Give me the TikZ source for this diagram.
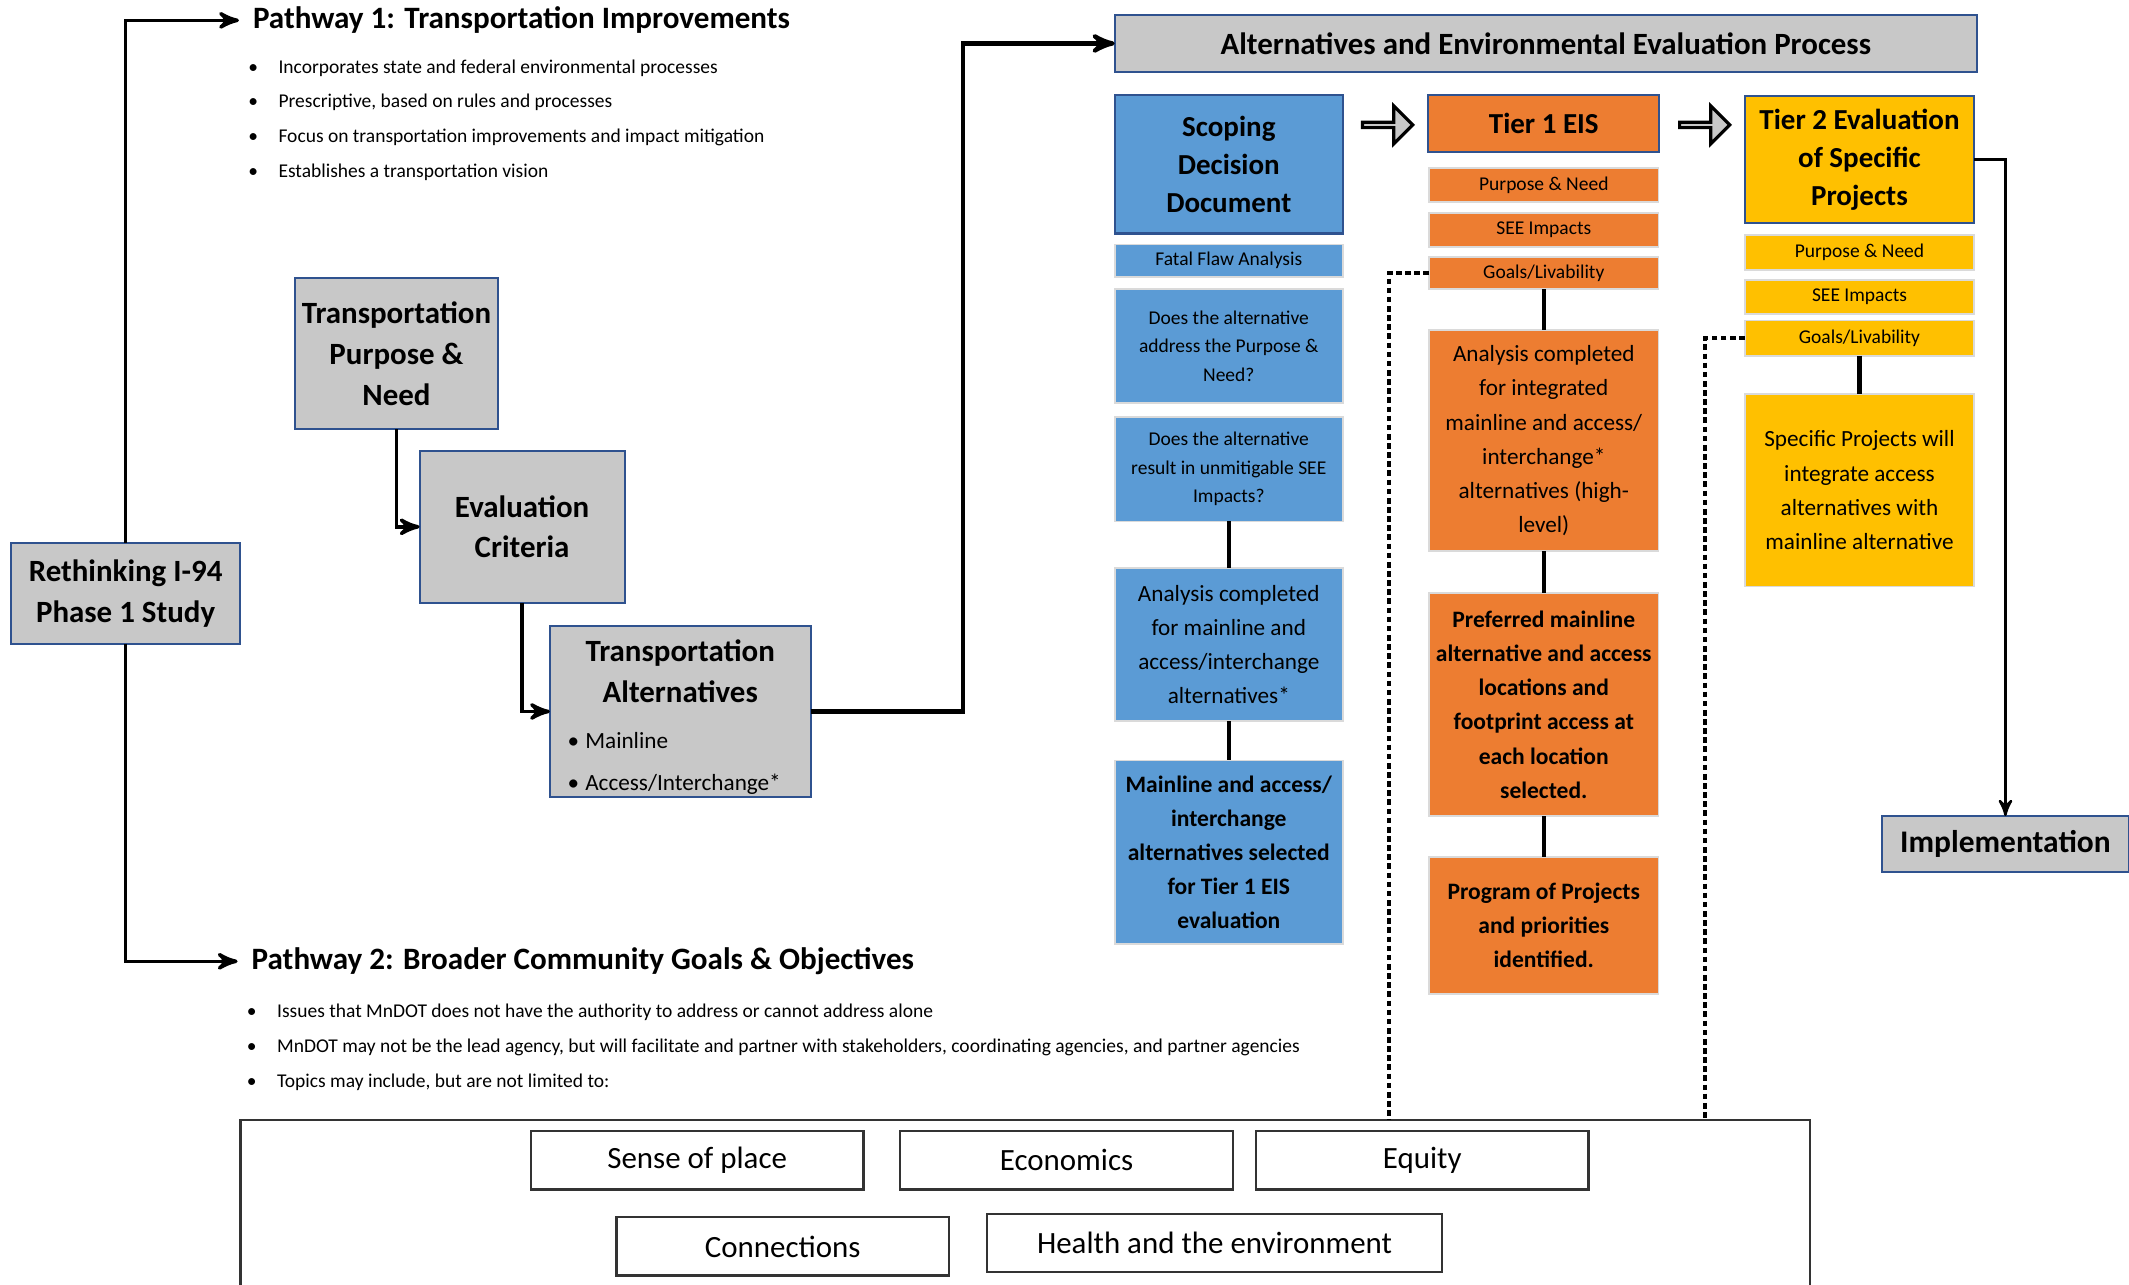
\documentclass[tikz,border=0pt]{standalone}
\usepackage{fontspec}
\setmainfont{Carlito}
\usepackage{tikz}
\usetikzlibrary{arrows,positioning,shapes.arrows}

\newcommand{\ux}{0.13578mm}
\newcommand{\itm}{\makebox[8.6pt][l]{\textbullet}}
\newcommand{\itmb}{\makebox[5pt][l]{\textbullet}}

\definecolor{boxgray}{HTML}{C8C8C8}
\definecolor{navyline}{HTML}{2F528F}
\definecolor{scopeblue}{HTML}{5B9BD5}
\definecolor{tieroj}{HTML}{ED7D31}
\definecolor{tiergold}{HTML}{FFC000}
\definecolor{cellline}{HTML}{DADADA}

\begin{document}
\begin{tikzpicture}[x=\ux,y=-\ux,>=stealth',line width=1pt]
    \tikzset{every node/.style={inner sep=1.5pt,outer sep=0pt},
             wh/.style 2 args={minimum width=#1*\ux,minimum height=#2*\ux},
             bigb/.style={font=\fontsize{8.25}{10.8}\selectfont\bfseries,align=center},
             smalltxt/.style={font=\fontsize{5.55}{8.1}\selectfont,align=center},
             midtxt/.style={font=\fontsize{6.6}{9.7}\selectfont,align=center},
             midb/.style={font=\fontsize{6.7}{9.7}\selectfont\bfseries,align=center},
             graybox/.style={draw=navyline,line width=0.6pt,fill=boxgray,bigb,font=\fontsize{8.8}{11.6}\selectfont\bfseries},
             headbox/.style={draw=navyline,line width=0.6pt,bigb},
             cell/.style={draw=cellline,line width=0.5pt},
             heading/.style={font=\fontsize{8.85}{11}\selectfont\bfseries,anchor=west,inner xsep=4pt},
             bullets/.style={font=\fontsize{5.55}{9.9}\selectfont,align=left,anchor=west},
             topic/.style={draw=black!80,line width=0.7pt,font=\fontsize{8.8}{11}\selectfont,wh={245}{43}},
             blockarrow/.style={single arrow,draw=black,line width=0.9pt,fill=boxgray,inner sep=0pt,
                                minimum height=37*\ux,minimum width=28*\ux,single arrow head extend=7*\ux},
             link/.style={line width=1.2pt},
             dotline/.style={line width=1.2pt,dash pattern=on 1.6pt off 1pt}}
    \useasboundingbox (0,0) rectangle (1568,946);
    \clip (0,0) rectangle (1568,946);

    \node[graybox,wh={169}{74}] (rt) at (92.5,437) {Rethinking I-94\\Phase 1 Study};
    \node[heading] (p1) at (176,15) {Pathway 1: Transportation Improvements};
    \node[bullets] (p1list) at (179,88.5) {\itm Incorporates state and federal environmental processes\\
        \itm Prescriptive, based on rules and processes\\
        \itm Focus on transportation improvements and impact mitigation\\
        \itm Establishes a transportation vision};
    \node[graybox,wh={150}{111}] (tpn) at (292,260.5) {Transportation\\Purpose \&\\Need};
    \node[graybox,wh={151}{112}] (ec) at (384.5,388) {Evaluation\\Criteria};
    \node[graybox,wh={192}{126},inner ysep=0pt] (ta) at (501,524) {\rule{0pt}{9.5pt}Transportation\\Alternatives\\[1.5pt]
        \makebox[22.5mm][l]{\normalfont\fontsize{6.6}{12}\selectfont\itmb Mainline}\\[0.4pt]
        \makebox[22.5mm][l]{\normalfont\fontsize{6.6}{12}\selectfont\itmb Access/Interchange*}};

    \node[heading] (p2) at (175,708) {Pathway 2: Broader Community Goals \& Objectives};
    \node[bullets] (p2list) at (178,771.5) {\itm Issues that MnDOT does not have the authority to address or cannot address alone\\
        \itm MnDOT may not be the lead agency, but will facilitate and partner with stakeholders, coordinating agencies, and partner agencies\\
        \itm Topics may include, but are not limited to:};
    \node[draw=black!80,line width=0.7pt,wh={1156}{260}] (topics) at (755,955) {};
    \node[topic] (sense) at (513.5,854.5) {Sense of place};
    \node[topic] (econ) at (785.5,854.5) {Economics};
    \node[topic] (equity) at (1047.5,854.5) {Equity};
    \node[topic] (conn) at (576.5,918) {Connections};
    \node[topic,wh={335}{43}] (health) at (894.5,915.5) {Health and the environment};

    \node[graybox,wh={635}{42},font=\fontsize{8.8}{11}\selectfont\bfseries] (title) at (1138.5,32) {Alternatives and Environmental Evaluation Process};

    \node[headbox,fill=scopeblue,wh={168}{102}] (sdd) at (905,121) {Scoping\\Decision\\Document};
    \node[cell,fill=scopeblue,smalltxt,wh={168}{24},below=1.09mm of sdd] (ffa) {Fatal Flaw Analysis};
    \node[cell,fill=scopeblue,smalltxt,wh={168}{84},below=1.22mm of ffa] (q1) {Does the alternative\\address the Purpose \&\\Need?};
    \node[cell,fill=scopeblue,smalltxt,wh={168}{77},below=1.36mm of q1] (q2) {Does the alternative\\result in unmitigable SEE\\Impacts?};
    \node[cell,fill=scopeblue,midtxt,wh={168}{113},below=4.62mm of q2] (an1) {Analysis completed\\for mainline and\\access/interchange\\alternatives*};
    \node[cell,fill=scopeblue,midb,wh={168}{135},below=3.94mm of an1] (sel) {Mainline and access/\\interchange\\alternatives selected\\for Tier 1 EIS\\evaluation};

    \node[blockarrow] (ar1) at (1021,92) {};

    \node[headbox,fill=tieroj,wh={170}{42}] (t1) at (1137,91) {Tier 1 EIS};
    \node[cell,fill=tieroj,smalltxt,wh={169}{25},below=1.63mm of t1] (pn1) {Purpose \& Need};
    \node[cell,fill=tieroj,smalltxt,wh={169}{25},below=1.09mm of pn1] (see1) {SEE Impacts};
    \node[cell,fill=tieroj,smalltxt,wh={169}{24},below=0.95mm of see1] (g1) {Goals/Livability};
    \node[cell,fill=tieroj,midtxt,wh={169}{163},below=4.07mm of g1] (an2) {Analysis completed\\for integrated\\mainline and access/\\interchange*\\alternatives (high-\\level)};
    \node[cell,fill=tieroj,midb,wh={169}{164},below=4.21mm of an2] (pref) {Preferred mainline\\alternative and access\\locations and\\footprint access at\\each location\\selected.};
    \node[cell,fill=tieroj,midb,wh={169}{101},below=4.07mm of pref] (prog) {Program of Projects\\and priorities\\identified.};

    \node[blockarrow] (ar2) at (1254.5,92) {};

    \node[headbox,fill=tiergold,wh={169}{93}] (t2) at (1369.5,117.5) {Tier 2 Evaluation\\of Specific\\Projects};
    \node[cell,fill=tiergold,smalltxt,wh={169}{26},below=1.22mm of t2] (pn2) {Purpose \& Need};
    \node[cell,fill=tiergold,smalltxt,wh={169}{25},below=0.95mm of pn2] (see2) {SEE Impacts};
    \node[cell,fill=tiergold,smalltxt,wh={169}{26},below=0.68mm of see2] (g2) {Goals/Livability};
    \node[cell,fill=tiergold,midtxt,wh={169}{142},below=3.8mm of g2] (spec) {Specific Projects will\\integrate access\\alternatives with\\mainline alternative};

    \node[graybox,wh={182}{41},font=\fontsize{8.95}{11}\selectfont\bfseries] (impl) at (1477,621.5) {Implementation};

    \draw[->] (rt.north) |- (p1.west);
    \draw[->] (rt.south) |- (p2.west);
    \draw[->] (tpn.south) |- (ec.west);
    \draw[->] (ec.south) |- (ta.west);
    \draw[->,link] (ta.east) -- ++(112,0) |- (title.west);
    \draw[->,line width=0.7pt] (t2.east) -| (impl.north);
    \path[link] (q2) edge (an1) (an1) edge (sel);
    \path[link] (g1) edge (an2) (an2) edge (pref) (pref) edge (prog);
    \path[link] (g2) edge (spec);
    \draw[dotline] (g1.west) -| (1023,0 |- topics.north);
    \draw[dotline] (g2.west) -| (1256,0 |- topics.north);
\end{tikzpicture}
\end{document}
